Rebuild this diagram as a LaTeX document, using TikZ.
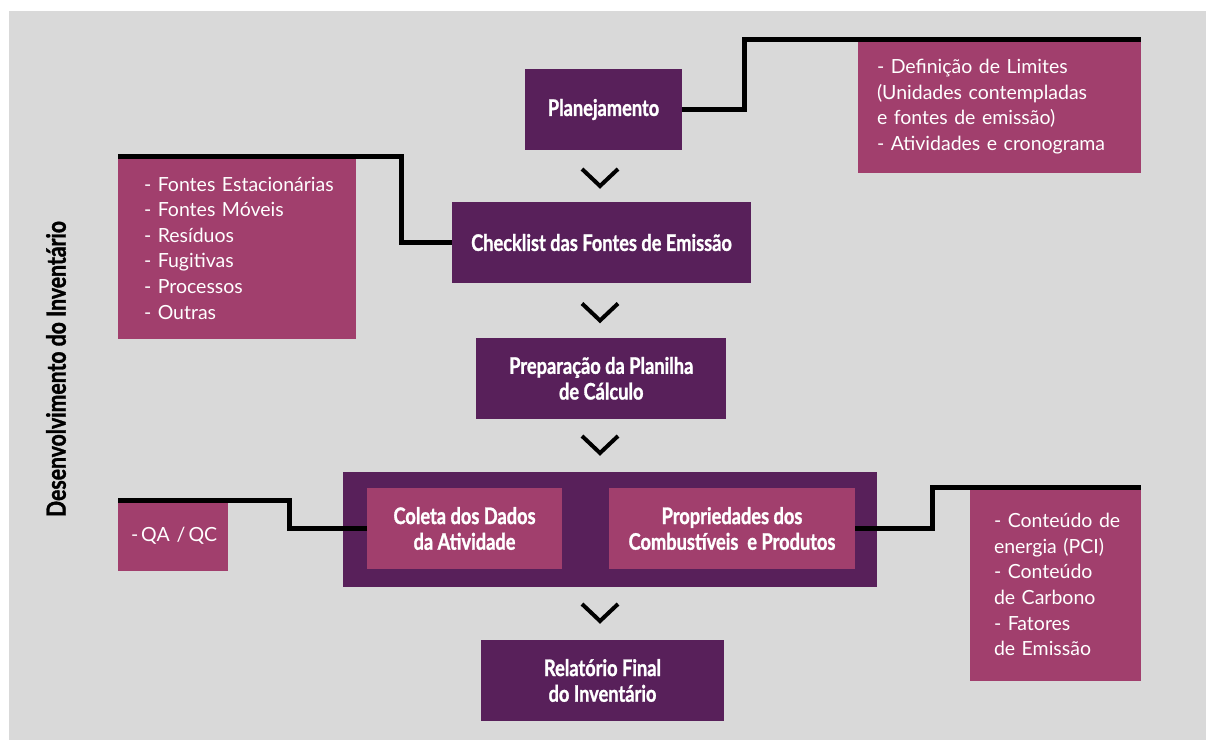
\documentclass[tikz,border=0pt]{standalone}
\usepackage{fontspec}
\setmainfont{Lato}
\newfontfamily\listfont{Lato}
\newfontfamily\titlefont[FakeStretch=0.8,FakeBold=1.2]{Lato}
\definecolor{bgray}{HTML}{D9D9D9}
\definecolor{dpurple}{HTML}{58205A}
\definecolor{mpink}{HTML}{A13F6D}
\newcommand{\itemline}[1]{\mbox{#1}}
\tikzset{
  stage/.style={fill=dpurple, text=white, align=center, inner sep=0pt,
    font=\titlefont\bfseries\fontsize{22.8}{25.7}\selectfont},
  info/.style={fill=mpink, text=white, align=left, inner ysep=0pt,
    font=\listfont\fontsize{19.5}{25.6}\selectfont},
  conn/.style={line width=4.8pt, black},
  chev/.style={line width=4pt, black, line join=miter},
}
\begin{document}
\begin{tikzpicture}[x=1pt,y=-1pt]
\useasboundingbox (0,0) rectangle (1206,740);
\fill[white] (0,0) rectangle (1206,740);
\fill[bgray] (9,11) rectangle (1206,740);

% vertical title
\node[rotate=90, inner sep=0pt, font=\titlefont\bfseries\fontsize{26.5}{30}\selectfont] (vtitle) at (56,369) {Desenvolvimento do Inventário};

% main stages
\node[stage, minimum width=157, minimum height=81] (plan) at (603.5,109.5) {Planejamento};
\node[stage, minimum width=299, minimum height=81] (check) at (601.5,242.5) {Checklist das Fontes de Emissão};
\node[stage, minimum width=250, minimum height=81] (prep) at (601.25,378.3) {Preparação da Planilha\\de Cálculo};
\node[fill=dpurple, inner sep=0pt, minimum width=534, minimum height=115] (outer) at (610,529.5) {};
\node[stage, fill=mpink, minimum width=195, minimum height=81] (coleta) at (464.5,528.5) {Coleta dos Dados\\da Atividade};
\node[stage, fill=mpink, minimum width=246, minimum height=81] (prop) at (732,528.5) {Propriedades dos\\Combustíveis\ \ e Produtos};
\node[stage, minimum width=243, minimum height=81] (rel) at (602.5,680.5) {Relatório Final\\do Inventário};

% info boxes
\node[info, inner xsep=19pt, text width=245, minimum height=133] (infoA) at (999.5,106.5)
  {\itemline{- Definição de Limites}\\\itemline{(Unidades contempladas}\\\itemline{e fontes de emissão)}\\\itemline{- Atividades e cronograma}};
\node[info, inner xsep=26pt, text width=186, minimum height=182] (infoB) at (237,248)
  {\itemline{- Fontes Estacionárias}\\\itemline{- Fontes Móveis}\\\itemline{- Resíduos}\\\itemline{- Fugitivas}\\\itemline{- Processos}\\\itemline{- Outras}};
\node[info, inner xsep=13pt, text width=84, minimum height=70] (infoC) at (173,536)
  {\itemline{-\hspace{3pt}QA\hspace{7pt}/\hspace{3pt}QC}};
\node[info, inner xsep=24pt, text width=123, minimum height=193] (infoD) at (1055.5,584.5)
  {\itemline{- Conteúdo de}\\\itemline{energia (PCI)}\\\itemline{- Conteúdo}\\\itemline{de Carbono}\\\itemline{- Fatores}\\\itemline{de Emissão}};

% connectors
\draw[conn] (plan.east) -- ++(62,0) |- (infoA.north east);
\draw[conn] (check.west) -- ++(-50.5,0) |- (infoB.north west);
\draw[conn] (coleta.west) -- ++(-77.5,0) |- (infoC.north west);
\draw[conn] (prop.east) -- ++(77,0) |- (infoD.north east);

% chevrons
\coordinate (c1) at (600,186);
\coordinate (c2) at (600,320.5);
\coordinate (c3) at (600,453);
\coordinate (c4) at (600,621);
\foreach \c in {c1,c2,c3,c4}{
  \draw[chev] ([shift={(-18,-17)}]\c) -- (\c) -- ([shift={(18,-17)}]\c);
}
\end{tikzpicture}
\end{document}
